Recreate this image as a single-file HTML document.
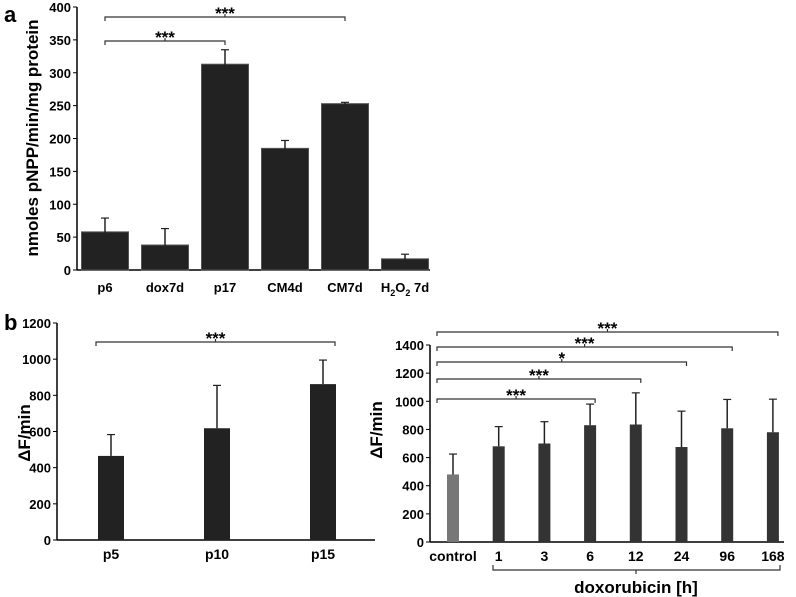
<!DOCTYPE html>
<html><head><meta charset="utf-8"><style>
body{margin:0;background:#fff}
svg{display:block;font-family:"Liberation Sans",Arial,sans-serif;font-weight:bold}
</style></head><body>
<svg id="s" width="796" height="597" viewBox="0 0 796 597">
<text x="4" y="22" font-size="22">a</text>
<text x="4" y="330" font-size="22">b</text>
</svg>
<script>
const aCats=["p6","dox7d","p17","CM4d","CM7d","H2O2 7d"];
const aVals=[58,38,313,185,253,17];
const aErr=[21,25,22,12,2,7];
const aTicks=[0,50,100,150,200,250,300,350,400];
const bLCats=["p5","p10","p15"];
const bLVals=[465,618,862];
const bLErr=[118,237,133];
const bLTicks=[0,200,400,600,800,1000,1200];
const bRCats=["control","1","3","6","12","24","96","168"];
const bRVals=[480,680,700,830,835,675,808,780];
const bRErr=[145,140,155,150,225,255,205,235];
const bRTicks=[0,200,400,600,800,1000,1200,1400];
const NS="http://www.w3.org/2000/svg";
const svg=document.getElementById('s');
function el(t,a,txt){const e=document.createElementNS(NS,t);for(const k in a)e.setAttribute(k,a[k]);if(txt!==undefined)e.textContent=txt;svg.appendChild(e);return e;}
function chart(o){
 const y=v=>o.y0-(v/o.max)*(o.y0-o.yTop);
 const x=i=>o.x0+i*o.step;
 let ax=el('line',{x1:o.ax,y1:o.yTop,x2:o.ax,y2:o.y0,stroke:'#000','stroke-width':1.5});
 
 let bx=el('line',{x1:o.ax,y1:o.y0,x2:o.xEnd,y2:o.y0,stroke:'#000','stroke-width':1.5});
 
 o.ticks.forEach(t=>{
  el('line',{x1:o.ax-4,y1:y(t),x2:o.ax,y2:y(t),stroke:'#000'});
  let tl=el('text',{x:o.ax-6,y:y(t)+5,'font-size':o.fs,'text-anchor':'end'},t);
  
 });
 o.cats.forEach((c,i)=>{
  const cx=x(i),v=o.vals[i],e=o.err[i];
  let b=el('rect',{x:cx-o.bw/2,y:y(v),width:o.bw,height:o.y0-y(v),fill:(o.colors?o.colors(i):'#222'),stroke:o.stroke||'none'});
  
  const lo=o.both?v-e:v;
  el('line',{x1:cx,y1:y(v+e),x2:cx,y2:y(lo),stroke:'#222','stroke-width':1.5});
  el('line',{x1:cx-4,y1:y(v+e),x2:cx+4,y2:y(v+e),stroke:'#222','stroke-width':1.2});
  if(o.both)el('line',{x1:cx-4,y1:y(lo),x2:cx+4,y2:y(lo),stroke:'#222','stroke-width':1.2});
  let tl;
  if(c==="H2O2 7d"){tl=el('text',{x:cx,y:o.y0+22,'font-size':o.fs,'text-anchor':'middle'});tl.innerHTML='H<tspan font-size="9" dy="4">2</tspan><tspan dy="-4">O</tspan><tspan font-size="9" dy="4">2</tspan><tspan dy="-4"> 7d</tspan>';}
  else tl=el('text',{x:cx,y:o.y0+(o.lab||20),'font-size':o.lfs||o.fs,'text-anchor':'middle'},c);
  
 });
 let yt=el('text',{transform:`translate(${o.ytx},${o.yty}) rotate(-90)`,'font-size':o.yfs,'text-anchor':'middle'},o.ytitle);
 
 return {x,y};
}
function bracket(x1,x2,yy,label,p){
 const g=el('path',{d:`M${x1},${yy+4}V${yy}H${x2}V${yy+4}M${(x1+x2)/2},${yy}V${yy-3}`,stroke:'#333',fill:'none','stroke-width':1.2});
 
 const t=el('text',{x:(x1+x2)/2,y:yy+2,'font-size':17,'text-anchor':'middle'},label);
 
}
const A=chart({p:'a',ax:77,y0:270,yTop:7,max:400,x0:105,step:60,bw:47,xEnd:430,ticks:aTicks,cats:aCats,vals:aVals,err:aErr,both:true,fs:13,lab:22,ytitle:'nmoles pNPP/min/mg protein',ytx:38,yty:138,yfs:17,stroke:'#555'});
bracket(A.x(0),A.x(4),17,'***','a');
bracket(A.x(0),A.x(2),41,'***','a');
const L=chart({p:'b-left',ax:57,y0:540,yTop:323,max:1200,x0:111,step:106,bw:26,xEnd:375,ticks:bLTicks,cats:bLCats,vals:bLVals,err:bLErr,fs:13,lfs:14,lab:19,ytitle:'ΔF/min',ytx:30,yty:433,yfs:17});
bracket(L.x(0)-15,L.x(2)+12,342,'***','b-left');
const R=chart({p:'b-right',ax:430,y0:542,yTop:345,max:1400,x0:453,step:45.7,bw:12,xEnd:784,ticks:bRTicks,cats:bRCats,vals:bRVals,err:bRErr,fs:13,lfs:14,lab:19,ytitle:'ΔF/min',ytx:382,yty:430,yfs:17,colors:i=>i===0?'#777':'#333'});
const ends=[3,4,5,6,7],ys=[399,379,362,347,332],labs=['***','***','*','***','***'];
ends.forEach((e,k)=>bracket(437,R.x(e)+5,ys[k],labs[k],'b-right'));
const db=el('path',{d:`M493,565V570H780V565M636,570V574`,stroke:'#333',fill:'none','stroke-width':1.2});

const dt=el('text',{x:636,y:593,'font-size':17,'text-anchor':'middle'},'doxorubicin [h]');

</script>
</body></html>
